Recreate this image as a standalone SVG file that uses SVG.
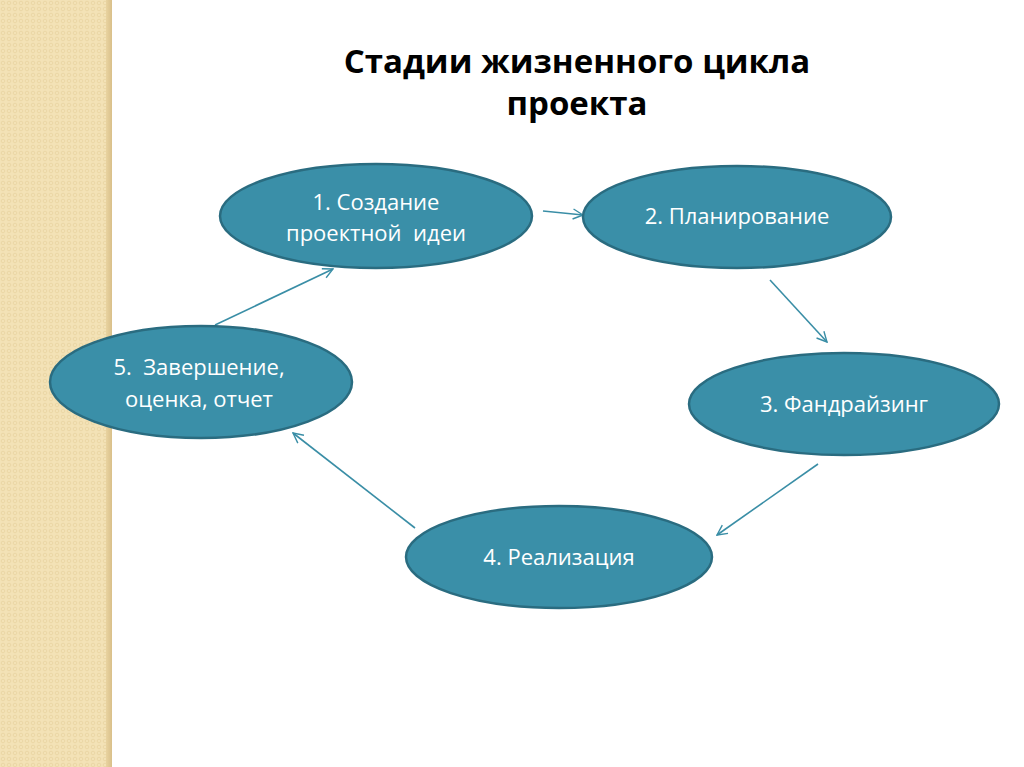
<svg xmlns="http://www.w3.org/2000/svg" width="1024" height="767" viewBox="0 0 1024 767">
<defs>
<pattern id="weave" width="6" height="6" patternUnits="userSpaceOnUse">
<rect width="6" height="6" fill="#f3e2b6"/>
<circle cx="3" cy="3" r="1.8" fill="none" stroke="#ead5a3" stroke-width="0.9"/>
</pattern>
<linearGradient id="edge" x1="0" y1="0" x2="1" y2="0">
<stop offset="0" stop-color="#e9d3a0"/>
<stop offset="1" stop-color="#d9c08a"/>
</linearGradient>
<marker id="arr" viewBox="0 0 12 12" refX="11" refY="6" markerWidth="12" markerHeight="12" markerUnits="userSpaceOnUse" orient="auto">
<path d="M1,1 L11,6 L1,11" fill="none" stroke="#3a8ea6" stroke-width="1.4"/>
</marker>
</defs>
<style>
.node ellipse{fill:#3a8fa8;stroke:#2a6c80;stroke-width:2.5}
.node text{font-family:"Open Sans","Liberation Sans",sans-serif;font-size:22px;fill:#ffffff;text-anchor:middle;white-space:pre}
.title{font-family:"Open Sans","Liberation Sans",sans-serif;font-size:33px;font-weight:bold;fill:#000;text-anchor:middle}
#connectors line{stroke:#3a8ea6;stroke-width:1.6;marker-end:url(#arr)}
</style>
<rect width="1024" height="767" fill="#ffffff"/>
<rect x="0" y="0" width="108" height="767" fill="url(#weave)"/>
<rect x="106" y="0" width="6" height="767" fill="url(#edge)"/>
<text class="title" x="577" y="73">Стадии жизненного цикла</text>
<text class="title" x="577" y="115">проекта</text>
<g id="connectors">
<line x1="543" y1="211" x2="583" y2="215"/>
<line x1="770" y1="280" x2="827" y2="342"/>
<line x1="818" y1="464" x2="717" y2="535"/>
<line x1="415" y1="528" x2="293" y2="433"/>
<line x1="215" y1="325" x2="333" y2="269"/>
</g>
<g id="node1" class="node">
<ellipse cx="376" cy="216" rx="156" ry="52"/>
<text x="376" y="210">1. Создание</text>
<text x="376" y="241" xml:space="preserve">проектной  идеи</text>
</g>
<g id="node2" class="node">
<ellipse cx="737" cy="217" rx="154" ry="51"/>
<text x="737" y="224">2. Планирование</text>
</g>
<g id="node3" class="node">
<ellipse cx="844" cy="404" rx="155" ry="51"/>
<text x="844" y="412">3. Фандрайзинг</text>
</g>
<g id="node4" class="node">
<ellipse cx="559" cy="557" rx="153" ry="51"/>
<text x="559" y="565">4. Реализация</text>
</g>
<g id="node5" class="node">
<ellipse cx="201" cy="382" rx="151" ry="56"/>
<text x="199" y="375" xml:space="preserve">5.  Завершение,</text>
<text x="199" y="407">оценка, отчет</text>
</g>
</svg>
